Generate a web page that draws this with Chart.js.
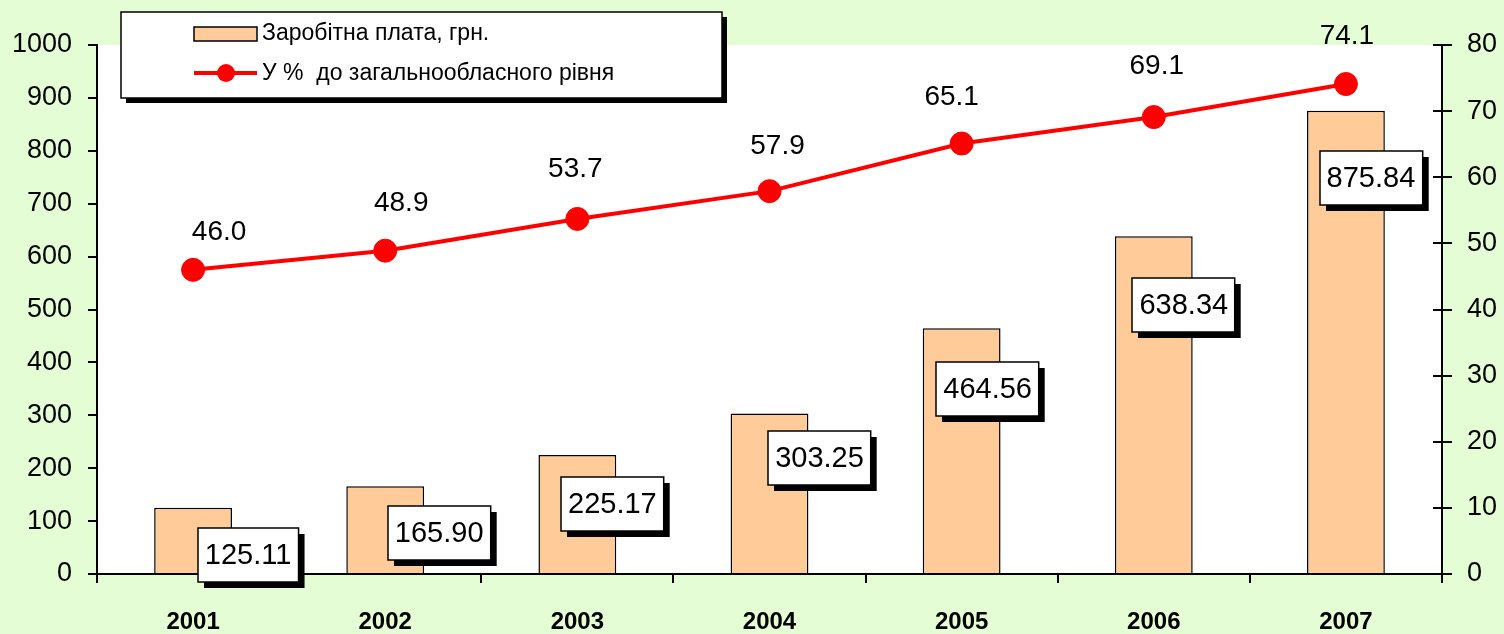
<!DOCTYPE html>
<html>
<head>
<meta charset="utf-8">
<script src="https://cdn.jsdelivr.net/npm/chart.js@4.4.1/dist/chart.umd.min.js"></script>
<style>
  html, body { margin: 0; padding: 0; background: #e4fdd5; }
  #wrap { width: 1504px; height: 634px; }
</style>
</head>
<body>
<div id="wrap"><canvas id="chart"></canvas></div>
<script>
// ---- data ----
const years = ['2001', '2002', '2003', '2004', '2005', '2006', '2007'];
const wages = [125.11, 165.90, 225.17, 303.25, 464.56, 638.34, 875.84];
const percentOfRegion = [46.0, 48.9, 53.7, 57.9, 65.1, 69.1, 74.1];
const wageLabel = 'Заробітна плата, грн.';
const percentLabel = 'У %  до загальнообласного рівня';
const wageAxis = { min: 0, max: 1000, step: 100 };
const percentAxis = { min: 0, max: 80, step: 10 };

// ---- label placement (pixel offsets of label centres) ----
const wageLabelOffsets = [[55, 47], [54, 47], [35, 49], [50, 44], [26, 61], [30, 69], [25, 67]];
const percentLabelOffsets = [[26, -38], [16, -47], [-2, -50], [8, -45], [-10, -46], [3, -51], [1, -48]];

// ---- style ----
const FONT = "'Liberation Sans', Arial, sans-serif";
const BG = '#e4fdd5';
const BAR = '#ffcc99';
const RED = '#ff0000';

const decor = {
  id: 'decor',
  beforeDraw(chart) {
    const { ctx, chartArea: a } = chart;
    ctx.save();
    ctx.fillStyle = BG;
    ctx.fillRect(0, 0, chart.width, chart.height);
    ctx.fillStyle = '#ffffff';
    ctx.fillRect(a.left, a.top, a.right - a.left, a.bottom - a.top);
    ctx.restore();
  },
  afterDatasetsDraw(chart) {
    const { ctx } = chart;
    const bars = chart.getDatasetMeta(0).data;
    const pts = chart.getDatasetMeta(1).data;
    ctx.save();
    // wage values in framed boxes with a drop shadow
    ctx.font = '29px ' + FONT;
    ctx.textAlign = 'center';
    ctx.textBaseline = 'middle';
    bars.forEach((bar, i) => {
      const cx = bar.x + wageLabelOffsets[i][0];
      const cy = bar.y + wageLabelOffsets[i][1];
      const txt = wages[i].toFixed(2);
      const w = ctx.measureText(txt).width + 14, h = 54;
      const x = Math.round(cx - w / 2), y = Math.round(cy - h / 2);
      ctx.fillStyle = '#000';
      ctx.fillRect(x + 6, y + 6, w, h);
      ctx.fillStyle = '#fff';
      ctx.fillRect(x, y, w, h);
      ctx.lineWidth = 1.5;
      ctx.strokeStyle = '#000';
      ctx.strokeRect(x, y, w, h);
      ctx.fillStyle = '#000';
      ctx.fillText(txt, cx, cy + 1);
    });
    // percent values above the points
    ctx.font = '28px ' + FONT;
    pts.forEach((p, i) => {
      ctx.fillStyle = '#000';
      ctx.fillText(percentOfRegion[i].toFixed(1), p.x + percentLabelOffsets[i][0], p.y + percentLabelOffsets[i][1]);
    });
    ctx.restore();
  },
  afterDraw(chart) {
    const { ctx, chartArea: a } = chart;
    ctx.save();
    // right axis ticks cross the axis line
    const y1 = chart.scales.y1;
    ctx.strokeStyle = '#000';
    ctx.lineWidth = 2;
    y1.ticks.forEach(t => {
      const py = Math.round(y1.getPixelForValue(t.value));
      ctx.beginPath();
      ctx.moveTo(a.right - 9, py);
      ctx.lineTo(a.right, py);
      ctx.stroke();
    });
    // legend box
    const lx = 121, ly = 12, lw = 601, lh = 86;
    ctx.fillStyle = '#000';
    ctx.fillRect(lx + 5, ly + 5, lw, lh);
    ctx.fillStyle = '#fff';
    ctx.fillRect(lx, ly, lw, lh);
    ctx.lineWidth = 1.5;
    ctx.strokeRect(lx, ly, lw, lh);
    const ds = chart.data.datasets;
    // bar swatch
    ctx.fillStyle = ds[0].backgroundColor;
    ctx.fillRect(194, 27, 63, 14);
    ctx.strokeStyle = '#000';
    ctx.lineWidth = 1.5;
    ctx.strokeRect(194, 27, 63, 14);
    // line swatch
    ctx.strokeStyle = ds[1].borderColor;
    ctx.lineWidth = 4;
    ctx.beginPath();
    ctx.moveTo(194, 73);
    ctx.lineTo(257, 73);
    ctx.stroke();
    ctx.fillStyle = ds[1].pointBackgroundColor;
    ctx.beginPath();
    ctx.arc(226, 73, 9, 0, Math.PI * 2);
    ctx.fill();
    ctx.fillStyle = '#000';
    ctx.font = '23px ' + FONT;
    ctx.textAlign = 'left';
    ctx.textBaseline = 'middle';
    ctx.fillText(ds[0].label, 262, 34);
    ctx.fillText(ds[1].label, 262, 74);
    ctx.restore();
  }
};

new Chart(document.getElementById('chart'), {
  data: {
    labels: years,
    datasets: [
      {
        type: 'bar',
        label: wageLabel,
        data: wages,
        yAxisID: 'y',
        backgroundColor: BAR,
        borderColor: '#000',
        borderWidth: 1.5,
        categoryPercentage: 1,
        barPercentage: 0.405,
        order: 1
      },
      {
        type: 'line',
        label: percentLabel,
        data: percentOfRegion,
        yAxisID: 'y1',
        borderColor: RED,
        borderWidth: 4,
        backgroundColor: RED,
        pointBackgroundColor: RED,
        pointBorderColor: RED,
        pointBorderWidth: 1,
        pointRadius: 11.5,
        tension: 0,
        order: 0
      }
    ]
  },
  options: {
    responsive: true,
    maintainAspectRatio: false,
    animation: false,
    layout: { padding: { top: 45, left: 0, right: 0, bottom: 0 } },
    plugins: { legend: { display: false }, tooltip: { enabled: false } },
    scales: {
      x: {
        type: 'category',
        offset: true,
        grid: { offset: true, drawOnChartArea: false, drawTicks: true, tickLength: 9, color: '#000', lineWidth: 2 },
        border: { display: true, color: '#000', width: 2 },
        ticks: { color: '#000', font: { family: FONT, size: 24, weight: 'bold' }, padding: 25, maxRotation: 0 },
        afterFit(s) { s.height = 60; }
      },
      y: {
        position: 'left',
        min: wageAxis.min,
        max: wageAxis.max,
        grid: { drawOnChartArea: false, drawTicks: true, tickLength: 9, color: '#000', lineWidth: 2 },
        border: { display: true, color: '#000', width: 2 },
        ticks: { stepSize: wageAxis.step, color: '#000', font: { family: FONT, size: 27 }, padding: 16, callback: v => String(v) },
        afterFit(s) { s.width = 97; }
      },
      y1: {
        position: 'right',
        min: percentAxis.min,
        max: percentAxis.max,
        grid: { drawOnChartArea: false, drawTicks: true, tickLength: 10, color: '#000', lineWidth: 2 },
        border: { display: true, color: '#000', width: 2 },
        ticks: { stepSize: percentAxis.step, color: '#000', font: { family: FONT, size: 27 }, padding: 15, callback: v => String(v) },
        afterFit(s) { s.width = 62; }
      }
    }
  },
  plugins: [decor]
});
</script>
</body>
</html>
